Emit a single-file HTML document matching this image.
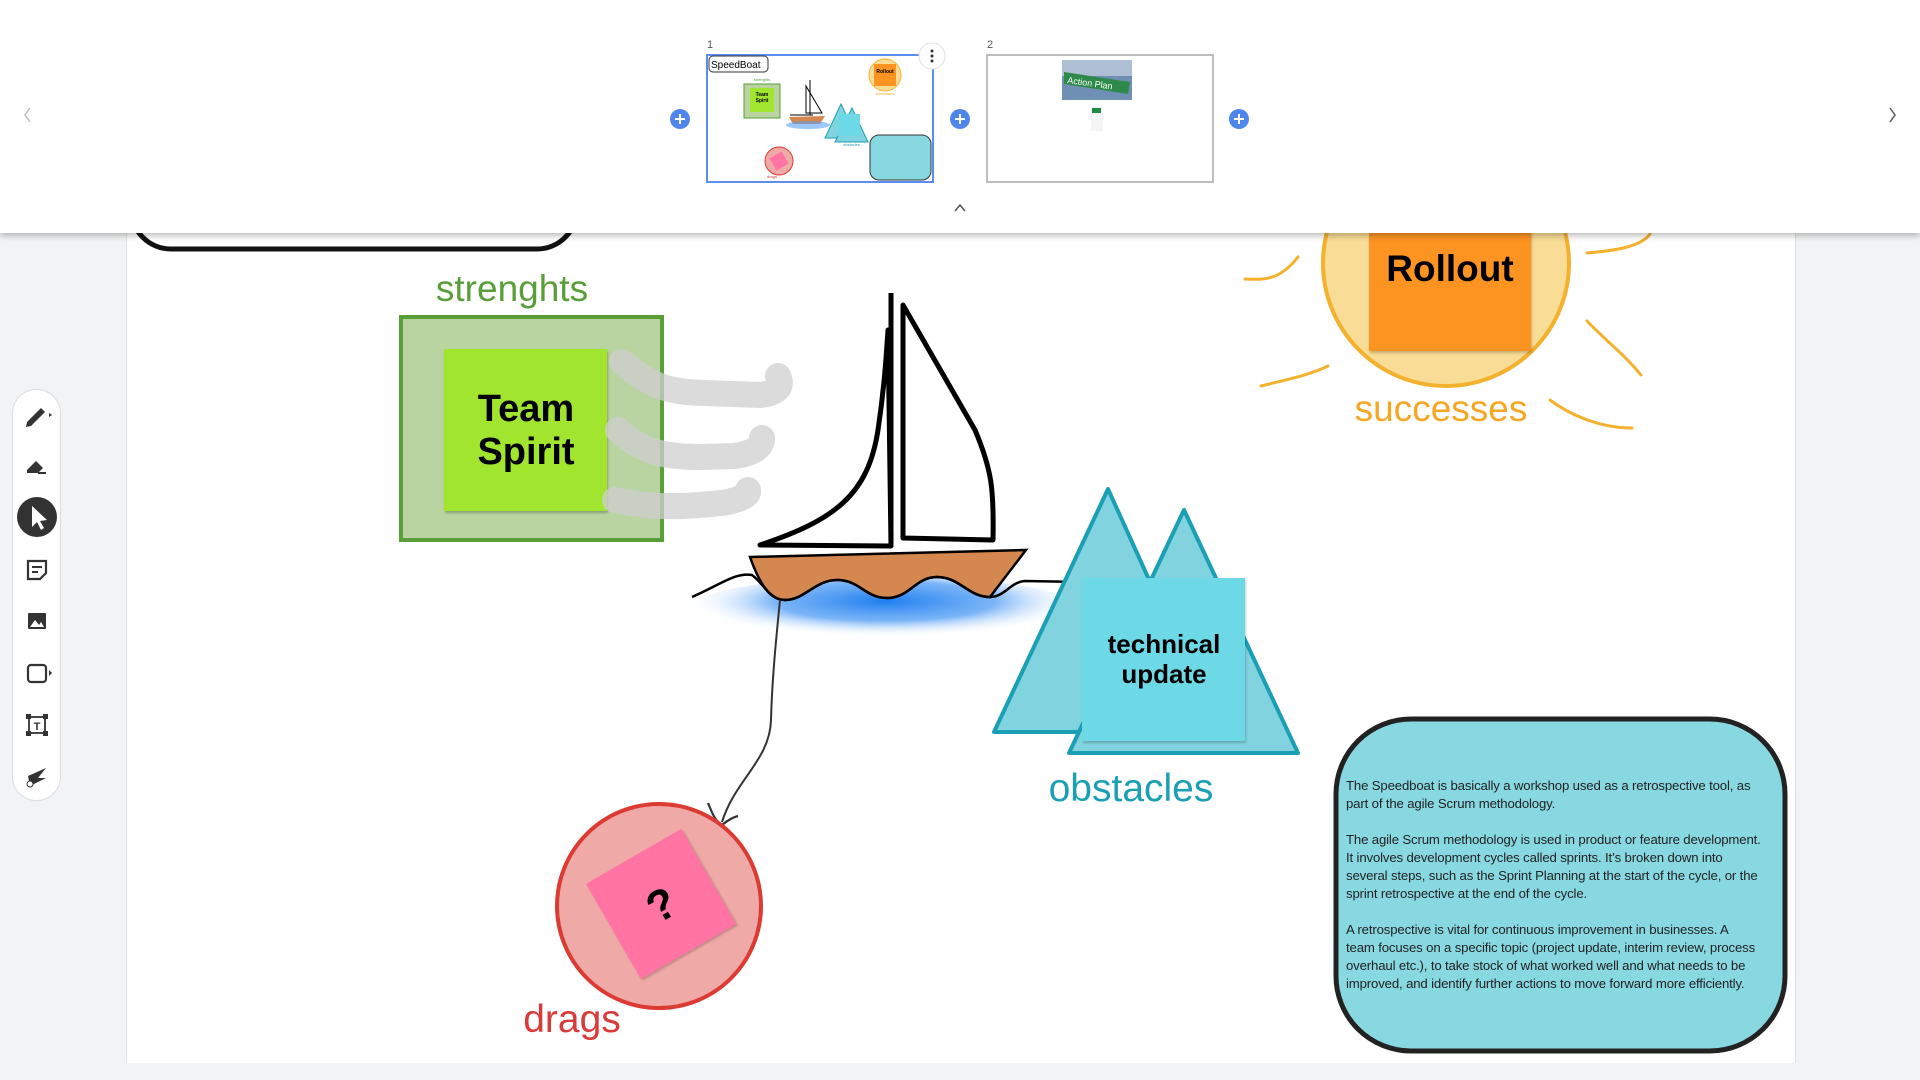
<!DOCTYPE html>
<html><head><meta charset="utf-8">
<style>
html,body{margin:0;padding:0;width:1920px;height:1080px;overflow:hidden;background:#f1f3f4;font-family:"Liberation Sans",sans-serif}
#page{position:absolute;left:126px;top:0;width:1668px;height:1063px;background:#fff;border-left:1px solid #e0e0e0;border-right:1px solid #e0e0e0}
svg{position:absolute;left:0;top:0}
#header{position:absolute;left:0;top:0;width:1920px;height:233px;background:#fff;box-shadow:0 3px 6px rgba(0,0,0,0.25);z-index:5}
#tb{position:absolute;left:12px;top:389px;width:49px;height:412px;background:#fff;border:1px solid #dadce0;border-radius:25px;box-sizing:border-box;z-index:4}
#txt{position:absolute;left:1346px;top:777px;width:440px;font-size:13.2px;line-height:18px;color:#222;white-space:nowrap;letter-spacing:-0.15px}
.lbl{position:absolute;white-space:nowrap;transform:translateX(-50%)}
</style></head><body>
<div id="page"></div>
<svg width="1920" height="1080" viewBox="0 0 1920 1080">
<defs>
<radialGradient id="wg" cx="50%" cy="35%" r="50%">
<stop offset="0" stop-color="#1f7ff0"/><stop offset="0.55" stop-color="#5aa2f5" stop-opacity="0.8"/><stop offset="1" stop-color="#fff" stop-opacity="0"/>
</radialGradient>
</defs>
<rect x="131" y="100" width="446" height="149" rx="40" fill="#fff" stroke="#111" stroke-width="5"/>
<line x1="209" y1="222" x2="209" y2="233" stroke="#111" stroke-width="3"/>
<rect x="401" y="317" width="261" height="223" fill="#b9d4a0" stroke="#5a9e3a" stroke-width="4"/>
<rect x="444" y="349" width="163" height="162" fill="#a1e52f" style="filter:drop-shadow(1px 2px 1px rgba(0,0,0,.25))"/>
<text x="526" y="421" text-anchor="middle" font-weight="bold" font-size="38">Team</text>
<text x="526" y="464" text-anchor="middle" font-weight="bold" font-size="38">Spirit</text>
<g stroke="#cfcfcf" stroke-opacity="0.75" stroke-width="26" fill="none" stroke-linecap="round">
<path d="M622,362 C650,385 665,392 705,393 L760,395 Q786,392 778,376"/>
<path d="M618,430 C640,450 660,457 700,457 L735,456 Q762,452 762,438"/>
<path d="M615,500 C640,505 660,508 700,505 L722,503 Q750,498 748,490"/>
</g>
<ellipse cx="885" cy="612" rx="200" ry="36" fill="url(#wg)"/>
<path d="M903,305 L903,538 L993,540 C994,490 992,470 975,430 Z" fill="#fff" stroke="#000" stroke-width="5" stroke-linejoin="round"/>
<path d="M760,545 C835,520 868,495 878,430 C884,390 886,360 888,330 L891,546 Z" fill="#fff" stroke="#000" stroke-width="5" stroke-linejoin="round"/>
<line x1="891" y1="293" x2="891" y2="547" stroke="#000" stroke-width="5"/>
<path d="M750,557 L1026,550 L990,597 C968,597 960,577 937,577 C915,577 910,598 887,598 C865,598 860,580 837,580 C815,580 805,600 785,600 C770,600 760,585 750,557 Z" fill="#d4874e" stroke="#000" stroke-width="2.5"/>
<path d="M692,597 C720,585 735,572 752,575 C765,585 770,600 785,600 C805,600 815,580 837,580 C860,580 865,598 887,598 C910,598 915,577 937,577 C960,577 968,597 990,597 C1005,597 1010,582 1025,581 L1082,582" fill="none" stroke="#000" stroke-width="2.5"/>
<path d="M780,600 C776,640 772,680 771,720 C770,760 735,780 722,822" fill="none" stroke="#333" stroke-width="2"/>
<path d="M708,803 C712,812 714,820 722,825 C728,820 734,817 738,816" fill="none" stroke="#333" stroke-width="2.2"/>
<circle cx="659" cy="906" r="102" fill="#efaaa7" stroke="#dc3b33" stroke-width="4"/>
<g transform="rotate(-30 661 904)">
<rect x="606" y="849" width="110" height="110" fill="#ff74a3" style="filter:drop-shadow(1px 2px 1px rgba(0,0,0,.2))"/>
<text x="661" y="920" text-anchor="middle" font-weight="bold" font-size="44">?</text>
</g>
<polygon points="1108,489 994,732 1218,732" fill="#80d3df" stroke="#1a9fb5" stroke-width="4" stroke-linejoin="round"/>
<polygon points="1184,510 1069,753 1298,753" fill="#80d3df" stroke="#1a9fb5" stroke-width="4" stroke-linejoin="round"/>
<rect x="1082" y="578" width="163" height="163" fill="#6dd8e6" style="filter:drop-shadow(1px 2px 1px rgba(0,0,0,.2))"/>
<text x="1164" y="653" text-anchor="middle" font-weight="bold" font-size="26">technical</text>
<text x="1164" y="683" text-anchor="middle" font-weight="bold" font-size="26">update</text>
<circle cx="1446" cy="263" r="123" fill="#f9dc95" stroke="#f4b12e" stroke-width="4"/>
<rect x="1369" y="200" width="162" height="151" fill="#fd9421" style="filter:drop-shadow(1px 2px 1px rgba(0,0,0,.2))"/>
<text x="1450" y="281" text-anchor="middle" font-weight="bold" font-size="37">Rollout</text>
<g stroke="#f4b12e" stroke-width="3" fill="none" stroke-linecap="round">
<path d="M1245,279 C1265,280 1280,280 1298,257"/>
<path d="M1261,386 C1285,380 1310,375 1328,366"/>
<path d="M1587,253 C1610,251 1640,248 1650,234"/>
<path d="M1587,321 C1605,340 1625,355 1641,375"/>
<path d="M1550,400 C1570,415 1600,428 1632,428"/>
</g>
<rect x="1336" y="719" width="449" height="332" rx="75" fill="#88d8e2" stroke="#222" stroke-width="5"/>
</svg>
<div class="lbl" style="left:512px;top:268px;font-size:37px;color:#5a9e3a">strenghts</div>
<div class="lbl" style="left:1441px;top:388px;font-size:37px;color:#f5a623">successes</div>
<div class="lbl" style="left:1131px;top:767px;font-size:39px;color:#1a9fb5">obstacles</div>
<div class="lbl" style="left:572px;top:998px;font-size:39px;color:#d93a3a">drags</div>
<div id="txt">The Speedboat is basically a workshop used as a retrospective tool, as<br>part of the agile Scrum methodology.<br><br>The agile Scrum methodology is used in product or feature development.<br>It involves development cycles called sprints. It’s broken down into<br>several steps, such as the Sprint Planning at the start of the cycle, or the<br>sprint retrospective at the end of the cycle.<br><br>A retrospective is vital for continuous improvement in businesses. A<br>team focuses on a specific topic (project update, interim review, process<br>overhaul etc.), to take stock of what worked well and what needs to be<br>improved, and identify further actions to move forward more efficiently.</div>

<div id="tb"></div>
<svg width="80" height="820" style="z-index:4" viewBox="0 0 80 820">
<g fill="#333">
<path d="M27,422 L41,408 L45,412 L31,426 L26,427 Z"/><polygon points="49,413 52,415 49,417"/>
<path d="M27,470 L36,461 L43,468 L38,473 L27,473 Z"/><rect x="38" y="472" width="8" height="2"/>
<circle cx="37" cy="517" r="20"/>
<path d="M32,506 L32,527 L37,522 L41,530 L44,528 L40,521 L47,520 Z" fill="#fff"/>
<path d="M28,561 h18 v12 l-6,6 h-12 Z" fill="none" stroke="#333" stroke-width="2.2"/><rect x="32" y="566" width="10" height="2"/><rect x="32" y="571" width="6" height="2"/>
<rect x="28" y="613" width="18" height="16" rx="1"/><path d="M30,627 L35,620 L39,625 L41,622 L44,627 Z" fill="#fff"/>
<rect x="28" y="665" width="18" height="17" rx="3" fill="none" stroke="#333" stroke-width="2.2"/><polygon points="49,670 52,673 49,676"/>
<rect x="29" y="717" width="16" height="16" fill="none" stroke="#333" stroke-width="1.8"/><rect x="26" y="714" width="5" height="5"/><rect x="43" y="714" width="5" height="5"/><rect x="26" y="731" width="5" height="5"/><rect x="43" y="731" width="5" height="5"/><text x="37" y="730" font-size="11" font-weight="bold" text-anchor="middle">T</text>
<path d="M28,776 L46,768 L38,778 L46,778 L30,786 Z"/><circle cx="30" cy="784" r="3" fill="#fff" stroke="#333"/>
</g>
</svg>

<div id="header">
<svg width="1920" height="233" viewBox="0 0 1920 233">
<path d="M30,108 L25,115 L30,122" fill="none" stroke="#bbb" stroke-width="1.5"/>
<path d="M1890,108 L1895,115 L1890,122" fill="none" stroke="#555" stroke-width="1.5"/>
<path d="M955,211 L960,205 L965,211" fill="none" stroke="#555" stroke-width="1.5"/>
<text x="707" y="48" font-size="11" fill="#555">1</text>
<text x="987" y="48" font-size="11" fill="#555">2</text>
<rect x="707" y="55" width="226" height="127" fill="#fff" stroke="#5b8ef0" stroke-width="2"/>
<rect x="709" y="56" width="59" height="16" rx="4" fill="#fff" stroke="#333"/>
<text x="711" y="68" font-size="10">SpeedBoat</text>
<rect x="744" y="84" width="36" height="34" fill="#b9d4a0" stroke="#5a9e3a"/>
<rect x="750" y="88" width="24" height="24" fill="#a1e52f"/>
<text x="762" y="96" font-size="5" text-anchor="middle" font-weight="bold">Team</text>
<text x="762" y="102" font-size="5" text-anchor="middle" font-weight="bold">Spirit</text>
<text x="762" y="81" font-size="4" text-anchor="middle" fill="#5a9e3a">strenghts</text>
<path d="M810,80 L810,115 M806,86 L822,113 L806,113 Z M790,115 L813,115" fill="none" stroke="#000" stroke-width="1"/>
<path d="M789,117 L825,116 L820,124 L793,124 Z" fill="#d4874e"/>
<ellipse cx="808" cy="125" rx="22" ry="4" fill="#5aa2f5" opacity=".6"/>
<circle cx="885" cy="75" r="16" fill="#f9dc95" stroke="#f4b12e"/>
<rect x="874" y="64" width="22" height="22" fill="#fd9421"/>
<text x="885" y="73" font-size="5" text-anchor="middle" font-weight="bold">Rollout</text>
<text x="885" y="95" font-size="4" text-anchor="middle" fill="#f5a623">successes</text>
<polygon points="841,104 825,138 857,138" fill="#80d3df" stroke="#1a9fb5"/>
<polygon points="852,108 835,142 868,142" fill="#80d3df" stroke="#1a9fb5"/>
<rect x="838" y="114" width="22" height="22" fill="#6dd8e6"/>
<text x="843" y="146" font-size="4" fill="#1a9fb5">obstacles</text>
<circle cx="779" cy="161" r="14" fill="#efaaa7" stroke="#dc3b33"/>
<rect x="772" y="154" width="14" height="14" fill="#ff74a3" transform="rotate(-30 779 161)"/>
<text x="767" y="178" font-size="4" fill="#d93a3a">drags</text>
<rect x="870" y="135" width="61" height="45" rx="9" fill="#88d8e2" stroke="#333"/>
<circle cx="932" cy="56" r="13" fill="#fff" stroke="#e0e0e0"/>
<circle cx="932" cy="51" r="1.5" fill="#333"/><circle cx="932" cy="56" r="1.5" fill="#333"/><circle cx="932" cy="61" r="1.5" fill="#333"/>
<rect x="987" y="55" width="226" height="127" fill="#fff" stroke="#bdbdbd" stroke-width="2"/>
<rect x="1062" y="60" width="70" height="40" fill="#6f8fb5"/>
<rect x="1062" y="60" width="70" height="16" fill="#aebfd4"/>
<polygon points="1064,72 1130,82 1128,94 1064,84" fill="#2e8a4a"/>
<text x="1067" y="83" font-size="9" fill="#fff" transform="rotate(8 1067 83)">Action Plan</text>
<rect x="1091" y="107" width="12" height="24" fill="#f5f5f5"/><rect x="1092" y="108" width="9" height="5" fill="#1d8a45"/>
<g fill="#4f86ec"><circle cx="680" cy="119" r="10"/><circle cx="960" cy="119" r="10"/><circle cx="1239" cy="119" r="10"/></g>
<g stroke="#fff" stroke-width="2"><path d="M675,119 h10 M680,114 v10"/><path d="M955,119 h10 M960,114 v10"/><path d="M1234,119 h10 M1239,114 v10"/></g>
</svg>
</div>
</body></html>
